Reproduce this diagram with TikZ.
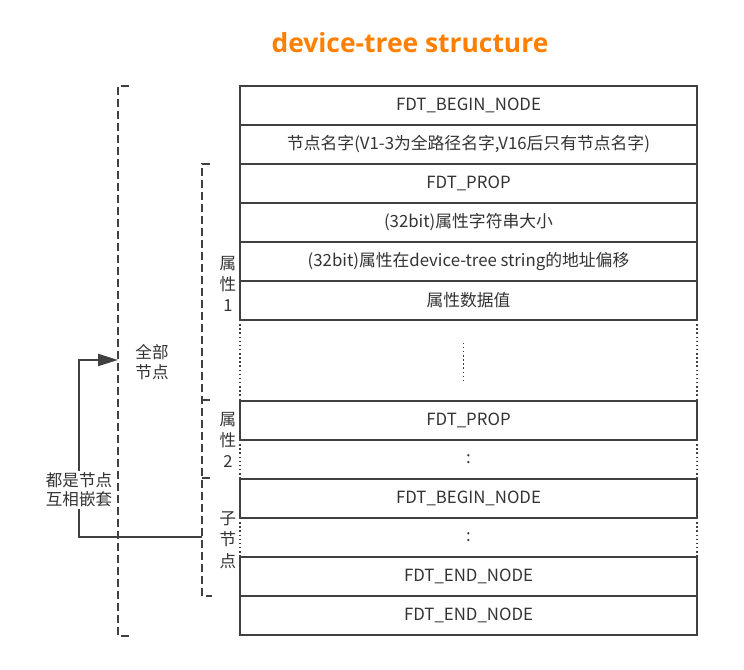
\documentclass[tikz,border=0pt]{standalone}
\usepackage{fontspec}
\setmainfont{Noto Sans CJK SC}
\newfontfamily\titlefont{Open Sans}
\usetikzlibrary{positioning,arrows.meta}
\definecolor{linegray}{RGB}{64,64,64}
\definecolor{textgray}{RGB}{51,51,51}
\definecolor{titleorange}{RGB}{255,128,0}

\begin{document}
\begin{tikzpicture}[x=0.75pt,y=0.75pt,
  cell/.style={draw=linegray,line width=1.5pt,minimum width=342.75pt,minimum height=29.25pt,
    outer sep=0pt,inner sep=0pt,text=textgray,font=\fontsize{12.6}{15}\selectfont},
  gapcell/.style={cell,draw=none},
  side/.style={draw=linegray,line width=1.1pt,dotted},
  brack/.style={draw=linegray,line width=1.5pt,dash pattern=on 6pt off 3pt},
  lbl/.style={text=textgray,font=\fontsize{12.4}{15.5}\selectfont,align=center,inner sep=1pt}]

\useasboundingbox (0,0) rectangle (744,670);

% title
\node[text=titleorange,font=\titlefont\bfseries\fontsize{19.8}{23}\selectfont] (title) at (410,627) {device-tree structure};

% the rows of one node
\node[cell,anchor=north] (begin) at (468.5,584) {FDT\_BEGIN\_NODE};
\node[cell,below=0pt of begin] (name) {节点名字(V1-3为全路径名字,V16后只有节点名字)};
\node[cell,below=0pt of name] (prop1) {FDT\_PROP};
\node[cell,below=0pt of prop1] (len1) {(32bit)属性字符串大小};
\node[cell,below=0pt of len1] (off1) {(32bit)属性在device-tree string的地址偏移};
\node[cell,below=0pt of off1] (val1) {属性数据值};
\node[gapcell,minimum height=60.75pt,below=0pt of val1] (more1) {};
\node[cell,below=0pt of more1] (prop2) {FDT\_PROP};
\node[gapcell,below=0pt of prop2] (more2) {:};
\node[cell,below=0pt of more2] (child) {FDT\_BEGIN\_NODE};
\node[gapcell,below=0pt of child] (more3) {:};
\node[cell,below=0pt of more3] (cend) {FDT\_END\_NODE};
\node[cell,below=0pt of cend] (end) {FDT\_END\_NODE};

% dotted sides of the open rows
\foreach \g in {more1,more2,more3} {
  \draw[side] (\g.north west) -- (\g.south west);
  \draw[side] (\g.north east) -- (\g.south east);
}
\draw[side,line width=0.8pt] ([xshift=-4pt,yshift=-17pt]more1.north) -- ([xshift=-4pt,yshift=15pt]more1.south);

% brackets
\draw[brack] (129,584) -- (118,584) -- (118,34) -- (130,34);
\draw[brack] (210,506) -- (202,506) -- (202,74) -- (212,74);
\draw[brack] (202,270) -- (210,270);
\draw[brack] (202,192) -- (210,192);

\node[lbl] (all) at (152,308) {全部\\节点};
\node[lbl,font=\fontsize{12.4}{16}\selectfont] (attr1) at (228,386) {属\\性\\1};
\node[lbl,font=\fontsize{12.4}{16}\selectfont] (attr2) at (228,230) {属\\性\\2};
\node[lbl,font=\fontsize{12.4}{16}\selectfont] (sub) at (228,130) {子\\节\\点};

% nesting arrow
\coordinate (inner) at (202,133);
\coordinate (outer) at (118,310);
\draw[linegray,line width=1.5pt,-{Triangle[length=15pt,width=9pt]}] (inner) -- ++(-123,0) |- (outer);
\node[lbl,fill=white,font=\fontsize{12.4}{14.5}\selectfont] (nest) at (79,180) {都是节点\\互相嵌套};

\end{tikzpicture}
\end{document}
